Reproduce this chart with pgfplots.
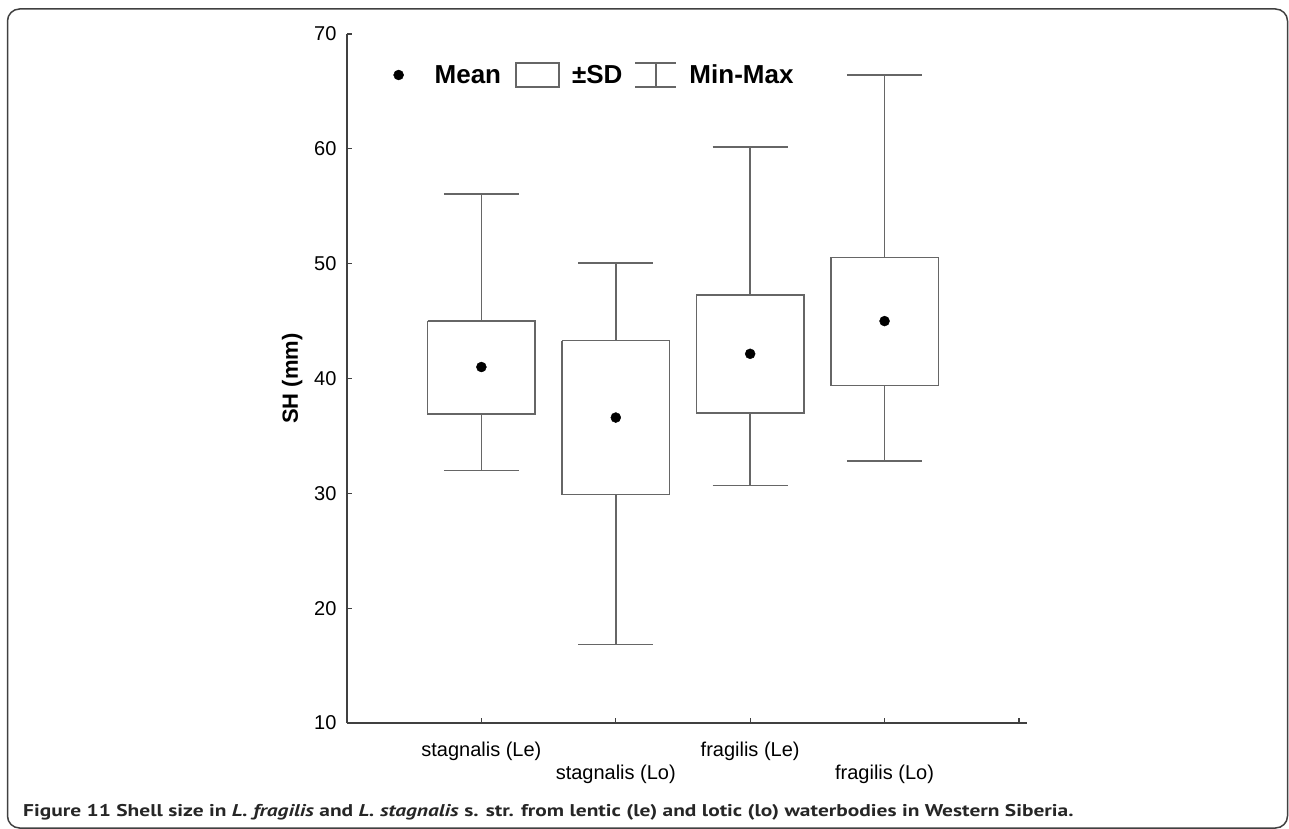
\documentclass[border=0pt]{standalone}
\usepackage{pgfplots}
\pgfplotsset{compat=1.18}
\usepackage{fontspec}
\setmainfont{Liberation Sans}
\newfontfamily\capfont{PT Sans}

\begin{document}
\begin{tikzpicture}
\useasboundingbox (0pt,0pt) rectangle (1289pt,-829pt);
\draw[line width=1.5pt, black!75, rounded corners=12pt] (7.5pt,-9pt) rectangle (1287.5pt,-828pt);
\node[anchor=base west, inner sep=0pt, font=\capfont\bfseries\fontsize{17}{20}\selectfont, text=black!85] at (23pt,-816.5pt)
  {\scalebox{1.26}[1]{Figure 11 Shell size in \textit{L. fragilis} and \textit{L. stagnalis} s. str. from lentic (le) and lotic (lo) waterbodies in Western Siberia.}};
\begin{axis}[
  at={(347pt,-723pt)}, anchor=south west,
  scale only axis, width=680pt, height=689pt,
  xmin=0, xmax=5.06, ymin=10, ymax=70,
  axis x line*=bottom, axis y line*=left,
  axis line style={line width=1.3pt, black!75},
  tick align=inside, major tick length=5pt,
  tick style={line width=1.2pt, black!75},
  ytick={10,20,...,70},
  xtick={1,3,5}, xticklabels={stagnalis (Le), fragilis (Le), {}},
  extra x ticks={2,4}, extra x tick labels={stagnalis (Lo), fragilis (Lo)},
  xticklabel style={yshift=-15pt},
  extra x tick style={tick label style={yshift=-23pt}},
  tick label style={font=\fontsize{20}{24}\selectfont},
  /pgf/number format/assume math mode=true,
  yticklabel style={xshift=-7pt},
  ylabel={\textbf{SH (mm)}},
  ylabel style={font=\fontsize{22}{26}\selectfont, yshift=5pt},
  legend columns=-1,
  legend style={at={(rel axis cs:0.068,0.9405)}, anchor=west, draw=none, fill=none,
    inner sep=0pt, font=\bfseries\fontsize{26}{30}\selectfont},
  boxline/.style={forget plot, line width=1.5pt, black!60, line join=miter, unbounded coords=jump},
]
\addlegendimage{legend image code/.code={\path[draw=none,fill=none] (-5pt,-13pt) rectangle (34pt,13pt); \fill[black] (0pt,0pt) circle (5pt);}}
\addlegendentry{Mean}
\addlegendimage{legend image code/.code={\path[draw=none,fill=none] (0pt,-13pt) rectangle (67pt,13pt); \draw[line width=1.5pt, black!60] (13pt,-12pt) rectangle (56pt,12pt);}}
\addlegendentry{±SD}
\addlegendimage{legend image code/.code={\path[draw=none,fill=none] (0pt,-13pt) rectangle (63pt,13pt); \draw[line width=1.5pt, black!60] (11pt,12pt)--(52pt,12pt) (11pt,-12pt)--(52pt,-12pt) (31.5pt,12pt)--(31.5pt,-12pt);}}
\addlegendentry{Min-Max}
% stagnalis (Le): min 32.0, -SD 36.9, mean 41.0, +SD 45.0, max 56.05
\addplot[boxline] coordinates {
 (0.72,56.05) (1.28,56.05) (nan,nan) (1,56.05) (1,45.0) (nan,nan)
 (0.6,45.0) (1.4,45.0) (1.4,36.9) (0.6,36.9) (0.6,45.0) (nan,nan)
 (1,36.9) (1,32.0) (nan,nan) (0.72,32.0) (1.28,32.0)};
% stagnalis (Lo): min 16.85, -SD 29.9, mean 36.6, +SD 43.3, max 50.05
\addplot[boxline] coordinates {
 (1.72,50.05) (2.28,50.05) (nan,nan) (2,50.05) (2,43.3) (nan,nan)
 (1.6,43.3) (2.4,43.3) (2.4,29.9) (1.6,29.9) (1.6,43.3) (nan,nan)
 (2,29.9) (2,16.85) (nan,nan) (1.72,16.85) (2.28,16.85)};
% fragilis (Le): min 30.7, -SD 37.0, mean 42.15, +SD 47.25, max 60.15
\addplot[boxline] coordinates {
 (2.72,60.15) (3.28,60.15) (nan,nan) (3,60.15) (3,47.25) (nan,nan)
 (2.6,47.25) (3.4,47.25) (3.4,37.0) (2.6,37.0) (2.6,47.25) (nan,nan)
 (3,37.0) (3,30.7) (nan,nan) (2.72,30.7) (3.28,30.7)};
% fragilis (Lo): min 32.8, -SD 39.4, mean 45.0, +SD 50.55, max 66.45
\addplot[boxline] coordinates {
 (3.72,66.45) (4.28,66.45) (nan,nan) (4,66.45) (4,50.55) (nan,nan)
 (3.6,50.55) (4.4,50.55) (4.4,39.4) (3.6,39.4) (3.6,50.55) (nan,nan)
 (4,39.4) (4,32.8) (nan,nan) (3.72,32.8) (4.28,32.8)};
% means
\addplot[forget plot, only marks, mark=*, mark size=5pt, black] coordinates {(1,41.0) (2,36.6) (3,42.15) (4,45.0)};
\end{axis}
\end{tikzpicture}
\end{document}
